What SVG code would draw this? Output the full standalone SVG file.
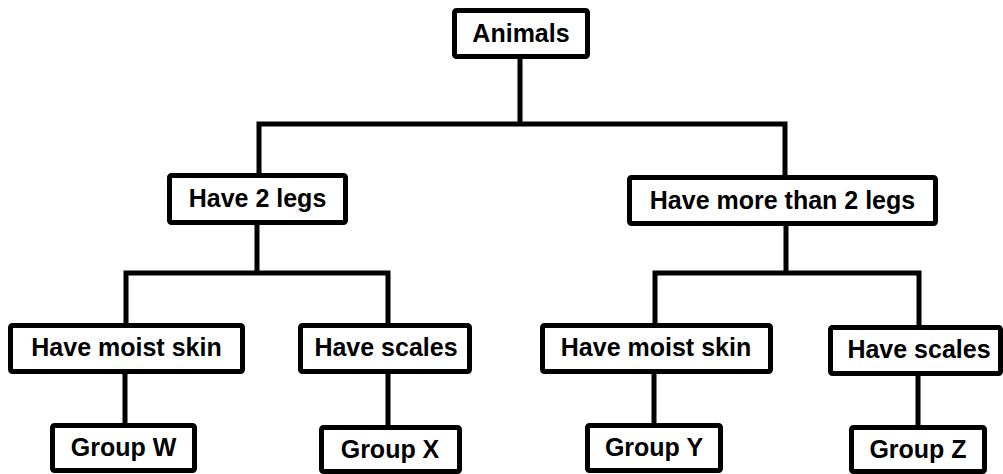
<svg xmlns="http://www.w3.org/2000/svg" width="1003" height="474" viewBox="0 0 1003 474">
<style>
.box{fill:#fff;stroke:#000;stroke-width:5;}
.lbl{font-family:"Liberation Sans",Arial,sans-serif;font-weight:bold;font-size:25px;fill:#000;text-anchor:middle;}
.conn{fill:none;stroke:#000;stroke-width:5;stroke-linecap:square;}
</style>
<rect width="1003" height="474" fill="#fff"/>
<g id="connectors">
<path class="conn" d="M520,59 V124 M259,124 H785 M259,124 V173 M785,124 V175"/>
<path class="conn" d="M257,225 V273 M126,273 H388 M126,273 V323 M388,273 V323"/>
<path class="conn" d="M786,226 V273 M655,273 H919 M655,273 V323 M919,273 V325"/>
<path class="conn" d="M125,374 V423 M388,374 V425 M654,374 V423 M918,376 V425"/>
</g>
<g id="animals"><rect class="box" x="454.5" y="10.5" width="133" height="46" rx="2"/><text class="lbl" x="521" y="42">Animals</text></g>
<g id="two-legs"><rect class="box" x="169.5" y="175.5" width="176" height="47" rx="2"/><text class="lbl" x="257.5" y="207">Have 2 legs</text></g>
<g id="more-legs"><rect class="box" x="629.5" y="177.5" width="306" height="46" rx="2"/><text class="lbl" x="782.5" y="209">Have more than 2 legs</text></g>
<g id="moist-left"><rect class="box" x="10.5" y="325.5" width="232" height="46" rx="2"/><text class="lbl" x="126.5" y="356">Have moist skin</text></g>
<g id="scales-left"><rect class="box" x="300.5" y="325.5" width="169" height="46" rx="2"/><text class="lbl" x="386" y="356">Have scales</text></g>
<g id="moist-right"><rect class="box" x="542.5" y="325.5" width="228" height="46" rx="2"/><text class="lbl" x="656" y="356">Have moist skin</text></g>
<g id="scales-right"><rect class="box" x="830.5" y="327.5" width="170" height="46" rx="2"/><text class="lbl" x="919" y="358">Have scales</text></g>
<g id="group-w"><rect class="box" x="52.5" y="425.5" width="142" height="45" rx="2"/><text class="lbl" x="123.5" y="456">Group W</text></g>
<g id="group-x"><rect class="box" x="321.5" y="427.5" width="138" height="44" rx="2"/><text class="lbl" x="390" y="458">Group X</text></g>
<g id="group-y"><rect class="box" x="587.5" y="425.5" width="133" height="45" rx="2"/><text class="lbl" x="654" y="456">Group Y</text></g>
<g id="group-z"><rect class="box" x="851.5" y="427.5" width="133" height="44" rx="2"/><text class="lbl" x="918" y="458">Group Z</text></g>
</svg>
